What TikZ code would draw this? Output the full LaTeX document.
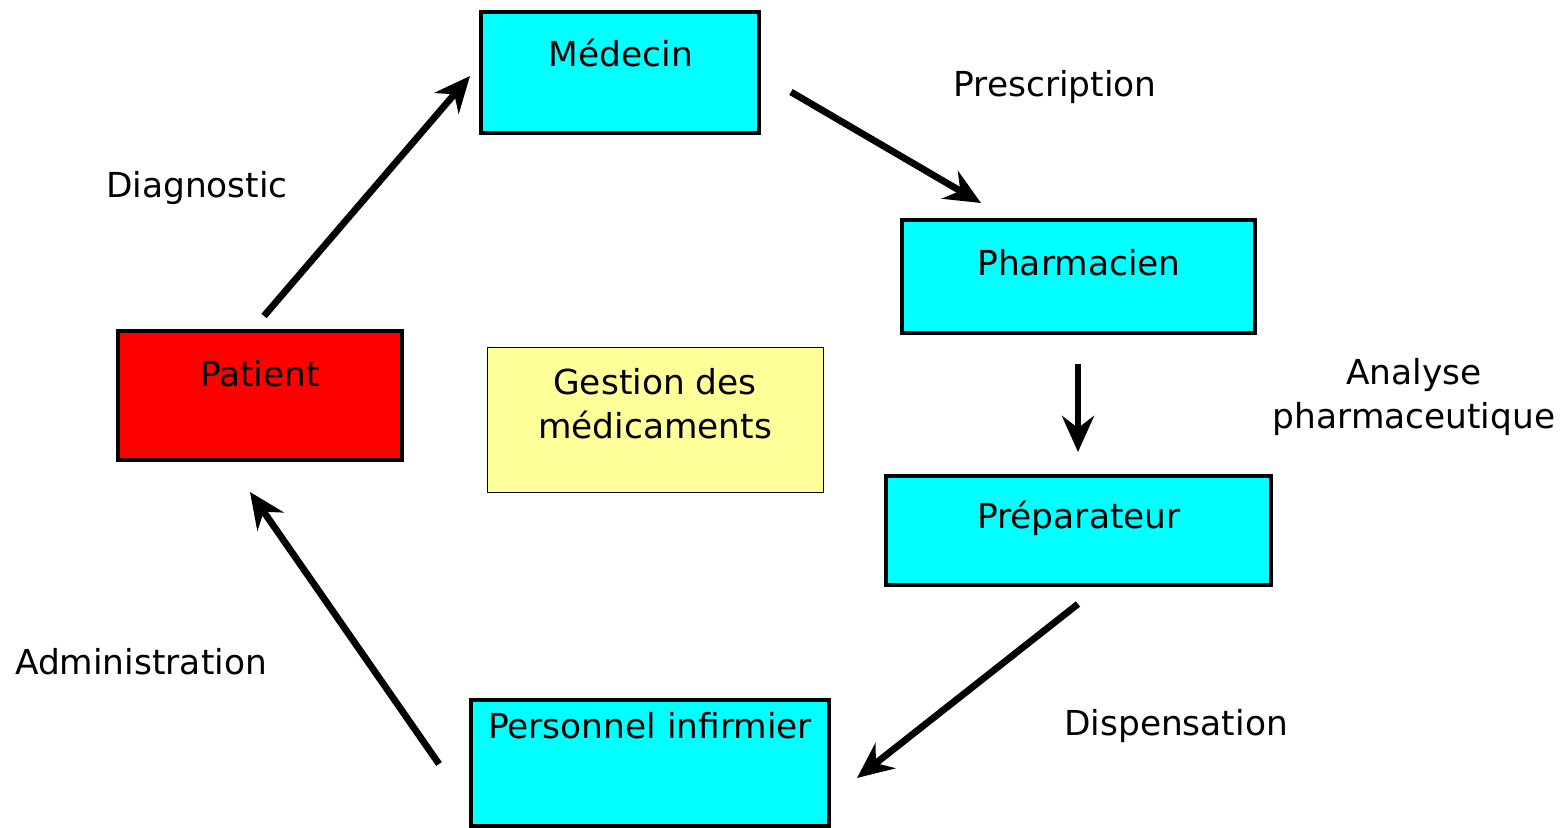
\documentclass[tikz,border=0pt]{standalone}
\usepackage{fontspec}
\setmainfont{DejaVu Sans}
\usetikzlibrary{arrows.meta}
\definecolor{boxcyan}{HTML}{00FFFF}
\definecolor{boxred}{HTML}{FF0000}
\definecolor{boxyellow}{HTML}{FFFF99}
\begin{document}
\begin{tikzpicture}[x=0.5pt,y=-0.5pt,
  actor/.style={draw=black,line width=1.6pt,fill=boxcyan,inner sep=0pt},
  txt/.style={inner sep=0pt,font=\fontsize{17.2}{22}\selectfont,align=center},
  flow/.style={line width=3.4pt,-{Stealth[length=18pt,width=16pt,inset=6pt]}}]
\useasboundingbox (0,0) rectangle (1567,828);
% boxes
\node[actor,minimum width=139pt,minimum height=60.5pt] (med) at (620,72.5) {};
\node[actor,minimum width=176.5pt,minimum height=56.5pt] (pha) at (1078.5,276.5) {};
\node[actor,minimum width=192.5pt,minimum height=54.5pt] (pre) at (1078.5,530.5) {};
\node[actor,minimum width=179pt,minimum height=63pt] (per) at (650,763) {};
\node[actor,fill=boxred,minimum width=142pt,minimum height=64.5pt] (pat) at (260,395.5) {};
\node[draw=black,line width=0.5pt,fill=boxyellow,minimum width=168pt,minimum height=72pt,inner sep=0pt] (ges) at (655,420) {};
% box texts
\node[txt] (medt) at (621,53) {Médecin};
\node[txt] (phat) at (1079,263) {Pharmacien};
\node[txt] (pret) at (1079,518) {Préparateur};
\node[txt] (pert) at (650,726) {Personnel infirmier};
\node[txt] (patt) at (260,374) {Patient};
\node[txt] (gest) at (655,404) {Gestion des\\médicaments};
% free labels
\node[txt] (l1) at (197,188) {Diagnostic};
\node[txt] (l2) at (1055,87) {Prescription};
\node[txt] (l3) at (1414,397) {Analyse\\pharmaceutique};
\node[txt] (l4) at (1176,726) {Dispensation};
\node[txt] (l5) at (141,662) {Administration};
% arrow endpoints
\coordinate (a1s) at (264,316); \coordinate (a1e) at (470,76);
\coordinate (a2s) at (791,92);  \coordinate (a2e) at (981,203);
\coordinate (a3s) at (1078,364); \coordinate (a3e) at (1078,452);
\coordinate (a4s) at (1078,604); \coordinate (a4e) at (857,778);
\coordinate (a5s) at (439,764); \coordinate (a5e) at (250,492);
\draw[flow] (a1s) -- (a1e);
\draw[flow] (a2s) -- (a2e);
\draw[flow] (a3s) -- (a3e);
\draw[flow] (a4s) -- (a4e);
\draw[flow] (a5s) -- (a5e);
\end{tikzpicture}
\end{document}
